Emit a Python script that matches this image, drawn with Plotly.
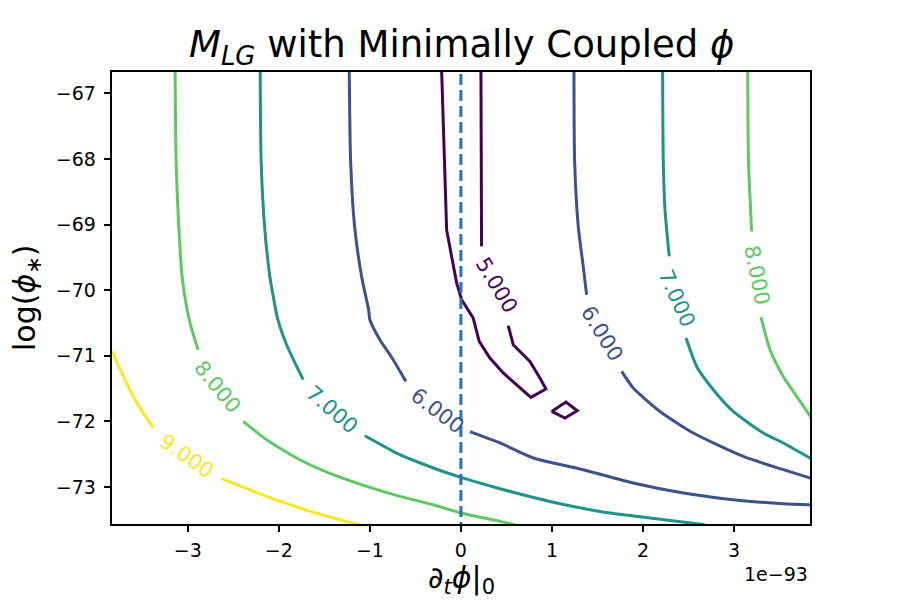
import plotly.graph_objects as go

FONT = "DejaVu Sans"

# ---- data (x in units of 1e-93) ----
levels = [5, 6, 7, 8, 9]
level_colors = ["#440154", "#3b528b", "#21918c", "#5ec962", "#fde725"]

x_range = [-3.833, 3.835]
y_range = [-73.564, -66.674]
x_ticks = [-3, -2, -1, 0, 1, 2, 3]
y_ticks = [-73, -72, -71, -70, -69, -68, -67]

# level 9
c9_a = [(-3.832, -70.933), (-3.601, -71.619), (-3.381, -72.101)]
c9_b = [(-2.630, -72.873), (-2.135, -73.143), (-1.769, -73.320), (-1.403, -73.473), (-1.088, -73.590)]

# level 8
c8_left_a = [(-3.140, -66.639), (-3.129, -68.011), (-3.099, -69.027), (-3.063, -69.790),
             (-3.008, -70.297), (-2.956, -70.602), (-2.887, -70.907)]
c8_left_b = [(-2.392, -72.000), (-2.135, -72.279), (-1.769, -72.584), (-1.403, -72.813),
             (-1.036, -72.991), (-0.670, -73.143), (-0.304, -73.270), (0.000, -73.396),
             (0.429, -73.524), (0.593, -73.575)]
c8_right_a = [(3.151, -66.639), (3.159, -68.011), (3.194, -69.104)]
c8_right_b = [(3.297, -70.409), (3.396, -70.907), (3.542, -71.314), (3.689, -71.619), (3.857, -71.959)]

# level 7
c7_left_a = [(-2.205, -66.639), (-2.195, -68.011), (-2.157, -69.027), (-2.099, -69.790),
             (-2.055, -70.145), (-2.011, -70.450), (-1.915, -70.831), (-1.733, -71.364)]
c7_left_b = [(-1.055, -72.218), (-0.670, -72.508), (-0.304, -72.710), (0.000, -72.854),
             (0.429, -73.026), (0.978, -73.220), (1.527, -73.372), (2.077, -73.473), (2.681, -73.575)]
c7_right_a = [(2.216, -66.639), (2.223, -68.011), (2.242, -68.773), (2.289, -69.485)]
c7_right_b = [(2.473, -70.729), (2.590, -71.162), (2.773, -71.517), (2.992, -71.848),
              (3.322, -72.177), (3.542, -72.329), (3.857, -72.576)]

# level 6
c6_left_a = [(-1.227, -66.639), (-1.212, -68.011), (-1.168, -69.027), (-1.091, -69.790),
             (-1.014, -70.297), (-1.000, -70.450), (-0.890, -70.755), (-0.758, -71.029), (-0.604, -71.390)]
c6_left_b = [(0.099, -72.157), (0.429, -72.329), (0.795, -72.558), (1.344, -72.736), (1.893, -72.939),
             (2.443, -73.091), (2.992, -73.194), (3.542, -73.255), (3.857, -73.273)]
c6_right_a = [(1.242, -66.639), (1.249, -68.011), (1.289, -69.027), (1.344, -69.637), (1.381, -70.069)]
c6_right_b = [(1.766, -71.238), (1.893, -71.491), (2.187, -71.848), (2.553, -72.177),
              (3.102, -72.533), (3.542, -72.736), (3.857, -72.873)]

# level 5
c5_a = [(-0.212, -66.639), (-0.184, -68.011), (-0.157, -69.078), (-0.102, -69.485), (-0.047, -69.890),
        (0.008, -70.145), (0.135, -70.424), (0.201, -70.780), (0.319, -71.034), (0.465, -71.262),
        (0.612, -71.441), (0.769, -71.634), (0.934, -71.506), (0.868, -71.338), (0.758, -71.085),
        (0.575, -70.831), (0.520, -70.541)]
c5_b = [(0.227, -69.332), (0.223, -68.011), (0.220, -66.639)]
c5_island = [(0.997, -71.848), (1.154, -71.704), (1.278, -71.837), (1.143, -71.948), (0.997, -71.848)]

segments = [
    (9, c9_a), (9, c9_b),
    (8, c8_left_a), (8, c8_left_b), (8, c8_right_a), (8, c8_right_b),
    (7, c7_left_a), (7, c7_left_b), (7, c7_right_a), (7, c7_right_b),
    (6, c6_left_a), (6, c6_left_b), (6, c6_right_a), (6, c6_right_b),
    (5, c5_a), (5, c5_b), (5, c5_island),
]

# contour labels
label_level = [5, 6, 7, 8, 8, 7, 6, 9]
label_x = [0.392, 1.555, 2.370, 3.258, -2.676, -1.412, -0.258, -3.014]
label_y = [-69.916, -70.663, -70.119, -69.776, -71.479, -71.822, -71.848, -72.520]
label_angle = [59, 58.5, 66, 79, 51, 41, 37, 35]

# vertical reference at x = 0
ref_x = [0, 0]
ref_y = [-73.7, -66.5]

color_of = dict(zip(levels, level_colors))

fig = go.Figure()
for lev, pts in segments:
    smooth = lev != 5
    fig.add_trace(go.Scatter(
        x=[p[0] for p in pts], y=[p[1] for p in pts], mode="lines",
        line=dict(color=color_of[lev], width=3,
                  shape="spline" if smooth else "linear", smoothing=0.6 if smooth else None),
        showlegend=False, hoverinfo="skip"))

fig.add_trace(go.Scatter(x=ref_x, y=ref_y, mode="lines",
                         line=dict(color="#1f77b4", width=3, dash="11px,5px"),
                         showlegend=False, hoverinfo="skip"))

for lev, lx, ly, ang in zip(label_level, label_x, label_y, label_angle):
    fig.add_annotation(x=lx, y=ly, text=f"{lev:.3f}", showarrow=False, textangle=ang,
                       font=dict(family=FONT, size=21, color=color_of[lev]),
                       xanchor="center", yanchor="middle")

axis_common = dict(showgrid=False, zeroline=False, showline=True, linecolor="black", linewidth=1.6,
                   mirror=True, ticks="outside", ticklen=6.5, tickwidth=1.6, tickcolor="black",
                   tickfont=dict(family=FONT, size=19, color="black"))

fig.update_xaxes(range=x_range, tickvals=x_ticks, ticklabelstandoff=2, **axis_common)
fig.update_yaxes(range=y_range, tickvals=y_ticks, ticklabelstandoff=4, **axis_common)

fig.add_annotation(xref="paper", yref="paper", x=0.5, y=1, yshift=25, text=
                   "<i>M</i><sub><i>LG</i></sub> with Minimally Coupled <i>ϕ</i>",
                   showarrow=False, font=dict(family=FONT, size=37, color="black"),
                   xanchor="center", yanchor="middle")
fig.add_annotation(xref="paper", yref="paper", x=0.5, y=0, yshift=-55,
                   text="∂<sub><i>t</i></sub><i>ϕ</i>|<sub>0</sub>",
                   showarrow=False, font=dict(family=FONT, size=30, color="black"),
                   xanchor="center", yanchor="middle")
fig.add_annotation(xref="paper", yref="paper", x=0, y=0.5, xshift=-86,
                   text="log(<i>ϕ</i><sub>∗</sub>)", textangle=-90,
                   showarrow=False, font=dict(family=FONT, size=30, color="black"),
                   xanchor="center", yanchor="middle")
fig.add_annotation(xref="paper", yref="paper", x=1, y=0, yshift=-50,
                   text="1e−93", showarrow=False, font=dict(family=FONT, size=19, color="black"),
                   xanchor="right", yanchor="middle")

fig.update_layout(width=900, height=600, margin=dict(l=112, r=90, t=72, b=76),
                  paper_bgcolor="white", plot_bgcolor="white", showlegend=False)

fig.write_html("out.html")
